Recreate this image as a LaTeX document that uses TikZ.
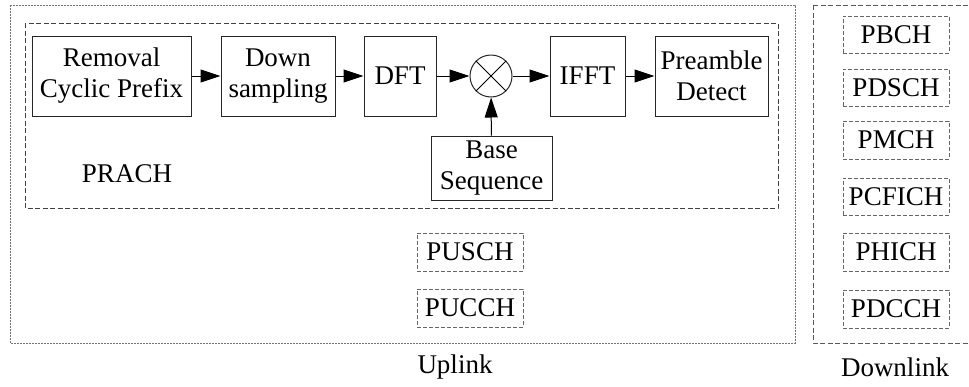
\documentclass[tikz,border=0pt]{standalone}
\usepackage{fontspec}
\setmainfont{Liberation Serif}
\usetikzlibrary{arrows.meta,positioning}

\tikzset{
  every node/.style={font=\fontsize{27}{31}\selectfont, inner sep=0pt, align=center},
  block/.style={draw=black!85, line width=1pt, fill=white},
  chan/.style={draw=black!60, line width=1pt, dash pattern=on 4pt off 2pt},
  uplinkframe/.style={draw=black!55, line width=1pt, dash pattern=on 2pt off 1pt},
  prachframe/.style={draw=black!75, line width=1pt, dash pattern=on 5pt off 2.5pt},
  downframe/.style={draw=black!65, line width=1pt, dash pattern=on 5pt off 2.5pt},
  flow/.style={draw=black, line width=1pt, -{Triangle[length=20pt,width=13pt]}},
  caption/.style={font=\fontsize{27}{31}\selectfont},
}

\begin{document}
\begin{tikzpicture}[x=1pt,y=-1pt]
  \useasboundingbox (0,0) rectangle (969,386);

  % outer frames
  \draw[uplinkframe] (10,5) rectangle (795,343);
  \draw[downframe] (813,5) -- (975,5) (813,5) -- (813,343) -- (975,343);
  \draw[prachframe] (25,23) rectangle (778,208);

  % PRACH processing chain
  \node[block, minimum width=159pt, minimum height=80pt] (rcp) at (111.5,76) {Removal\\Cyclic Prefix};
  \node[block, minimum width=114pt, minimum height=80pt] (ds) at (278,76) {Down\\sampling};
  \node[block, minimum width=72pt, minimum height=80pt] (dft) at (400,76) {DFT};
  \node[draw=black!85, line width=1pt, circle, minimum size=42pt] (mul) at (491,76) {};
  \draw[line width=0.8pt] (mul.north west) -- (mul.south east) (mul.north east) -- (mul.south west);
  \node[block, minimum width=75pt, minimum height=80pt] (ifft) at (587.5,76) {IFFT};
  \node[block, minimum width=113pt, minimum height=80pt] (pd) at (711.5,76) {Preamble\\Detect};
  \node[block, minimum width=121pt, minimum height=64pt] (bs) at (491.5,168) {Base\\Sequence};
  \node (prach) at (127,174) {PRACH};

  \draw[flow] (rcp) -- (ds);
  \draw[flow] (ds) -- (dft);
  \draw[flow] (dft) -- (mul);
  \draw[flow] (mul) -- (ifft);
  \draw[flow] (ifft) -- (pd);
  \draw[flow] (bs) -- (mul);

  % other uplink channels
  \node[chan, minimum width=106pt, minimum height=38pt] (pusch) at (470,252) {PUSCH};
  \node[chan, minimum width=106pt, minimum height=38pt] (pucch) at (470,308) {PUCCH};
  \node[caption] (ul) at (455,367) {Uplink};

  % downlink channels
  \node[chan, minimum width=106pt, minimum height=37pt] (pbch) at (896,34.5) {PBCH};
  \node[chan, minimum width=106pt, minimum height=37pt] (pdsch) at (896,87.5) {PDSCH};
  \node[chan, minimum width=106pt, minimum height=38pt] (pmch) at (896,140) {PMCH};
  \node[chan, minimum width=106pt, minimum height=37pt] (pcfich) at (896,196.5) {PCFICH};
  \node[chan, minimum width=106pt, minimum height=38pt] (phich) at (896,252) {PHICH};
  \node[chan, minimum width=106pt, minimum height=38pt] (pdcch) at (896,309) {PDCCH};
  \node[caption] (dl) at (895,367) {Downlink};
\end{tikzpicture}
\end{document}
